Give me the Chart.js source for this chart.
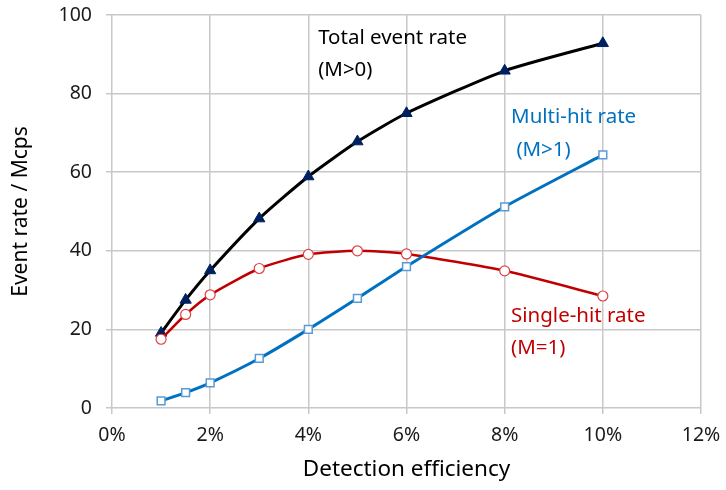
<!DOCTYPE html>
<html>
<head>
<meta charset="utf-8">
<script src="https://cdn.jsdelivr.net/npm/chart.js@4/dist/chart.umd.min.js"></script>
<style>
  body { margin: 0; background: #fff; }
  #wrap { width: 726px; height: 490px; }
</style>
</head>
<body>
<div id="wrap"><canvas id="myChart" width="726" height="490"></canvas></div>
<script>
// detection efficiency in %
var efficiency = [1, 1.5, 2, 3, 4, 5, 6, 8, 10];
var totalRate  = [19.1, 27.5, 35, 48.2, 58.9, 67.8, 75, 85.8, 92.8];
var singleRate = [17.5, 23.8, 28.8, 35.5, 39.1, 40, 39.2, 34.9, 28.5];
var multiRate  = [1.8, 3.9, 6.4, 12.6, 20, 27.9, 36, 51.2, 64.4];

var xTicks = [0, 2, 4, 6, 8, 10, 12];
var yTicks = [0, 20, 40, 60, 80, 100];

// text labels next to the curves: [text, x value, y value, colour]
var curveLabels = [
    ["Total event rate", 4.2, 94, "#000000"],
    ["(M>0)", 4.2, 86, "#000000"],
    ["Multi-hit rate", 8.13, 74, "#0070c0"],
    [" (M>1)", 8.13, 65.6, "#0070c0"],
    ["Single-hit rate", 8.13, 23.4, "#c00000"],
    ["(M=1)", 8.13, 15.3, "#c00000"]
];

function pairs(xs, ys) {
    var out = [];
    for (var i = 0; i < xs.length; i++) {
        out.push({x: xs[i], y: ys[i]});
    }
    return out;
}

var labelPlugin = {
    id: 'curveLabels',
    afterDatasetsDraw: function(chart) {
        var ctx = chart.ctx;
        var xs = chart.scales.x, ys = chart.scales.y;
        ctx.save();
        ctx.font = '20.5px "Noto Sans"';
        ctx.textAlign = 'left';
        ctx.textBaseline = 'middle';
        curveLabels.forEach(function(l) {
            ctx.fillStyle = l[3];
            ctx.fillText(l[0], xs.getPixelForValue(l[1]), ys.getPixelForValue(l[2]));
        });
        ctx.restore();
    }
};

var ctx = document.getElementById("myChart").getContext('2d');
var myChart = new Chart(ctx, {
    type: 'line',
    data: {
        datasets: [{
            label: 'Multi-hit rate',
            data: pairs(efficiency, multiRate),
            borderColor: '#0070c0',
            borderWidth: 3,
            pointStyle: 'rect',
            pointRadius: 5.5,
            pointBorderWidth: 1.5,
            pointBorderColor: '#5b9bd5',
            pointBackgroundColor: '#ffffff',
            tension: 0.2
        }, {
            label: 'Single-hit rate',
            data: pairs(efficiency, singleRate),
            borderColor: '#c00000',
            borderWidth: 2.5,
            pointStyle: 'circle',
            pointRadius: 5,
            pointBorderWidth: 1.2,
            pointBorderColor: '#e04040',
            pointBackgroundColor: '#ffffff',
            tension: 0.2
        }, {
            label: 'Total event rate',
            data: pairs(efficiency, totalRate),
            borderColor: '#000000',
            borderWidth: 3,
            pointStyle: 'triangle',
            pointRadius: 6.5,
            pointBorderWidth: 1,
            pointBorderColor: '#002060',
            pointBackgroundColor: '#002060',
            tension: 0.2
        }]
    },
    options: {
        responsive: false,
        animation: false,
        layout: { padding: { left: 0, right: 25, top: 15, bottom: 0 } },
        plugins: {
            legend: { display: false },
            tooltip: { enabled: false }
        },
        scales: {
            x: {
                type: 'linear',
                min: 0,
                max: 12,
                afterBuildTicks: function(scale) {
                    scale.ticks = xTicks.map(function(v) { return {value: v}; });
                },
                afterFit: function(scale) {
                    scale.height = 82;
                    scale.paddingLeft = 0;
                    scale.paddingRight = 0;
                },
                grid: { color: '#c8c8c8', lineWidth: 1.5, tickLength: 6 },
                border: { display: false },
                ticks: {
                    color: '#1a1a1a',
                    font: { family: 'Noto Sans', size: 19.5 },
                    padding: 10,
                    callback: function(v) { return v + '%'; }
                },
                title: {
                    display: true,
                    text: 'Detection efficiency',
                    color: '#000000',
                    font: { family: 'Noto Sans', size: 22.5 },
                    padding: { top: 4, bottom: 7 }
                }
            },
            y: {
                min: 0,
                max: 100,
                afterBuildTicks: function(scale) {
                    scale.ticks = yTicks.map(function(v) { return {value: v}; });
                },
                afterFit: function(scale) {
                    scale.width = 112;
                    scale.paddingTop = 0;
                    scale.paddingBottom = 0;
                },
                grid: { color: '#c8c8c8', lineWidth: 1.5, tickLength: 6 },
                border: { display: false },
                ticks: {
                    color: '#1a1a1a',
                    font: { family: 'Noto Sans', size: 19.5 },
                    padding: 14
                },
                title: {
                    display: true,
                    text: 'Event rate / Mcps',
                    color: '#000000',
                    font: { family: 'Noto Sans', size: 21 },
                    padding: { top: 8, bottom: 6 }
                }
            }
        }
    },
    plugins: [labelPlugin]
});
</script>
</body>
</html>
